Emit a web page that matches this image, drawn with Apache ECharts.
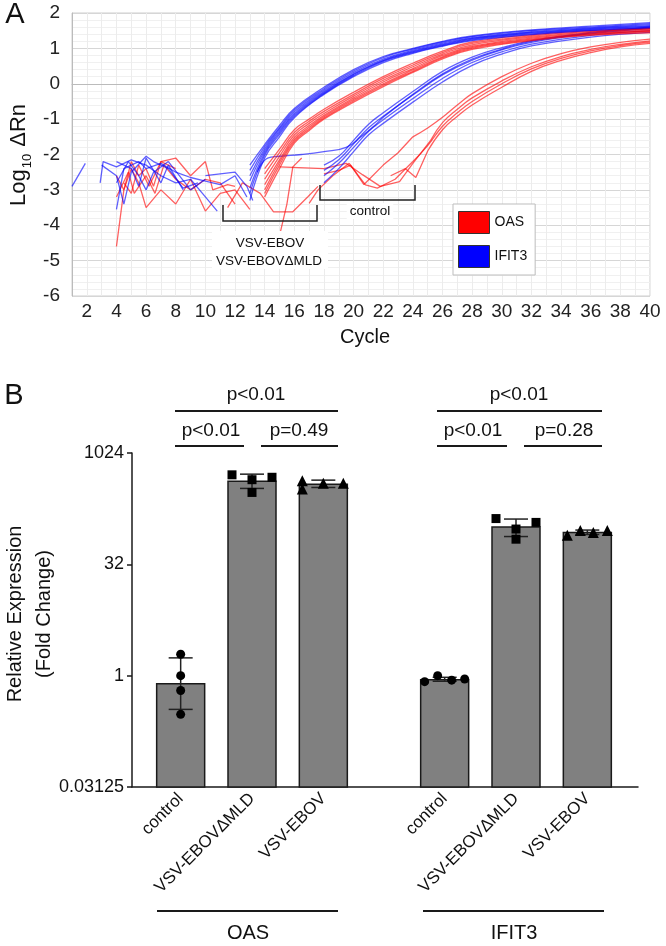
<!DOCTYPE html>
<html>
<head>
<meta charset="utf-8">
<script src="https://cdn.jsdelivr.net/npm/echarts@6/dist/echarts.min.js"></script>
<style>
html, body { margin: 0; padding: 0; background: #fff; }
#chart { width: 666px; height: 946px; }
</style>
</head>
<body>
<div id="chart"></div>
<script>
// ---- panel A: amplification curves (log10 dRn vs cycle) ----
const cyclesBlueEarly = [13, 14, 15, 16, 18, 20, 22, 24, 26, 28, 32, 36, 40];
const blueEarly = [
  [-2.3, -1.72, -1.18, -0.7, -0.1, 0.4, 0.77, 1.0, 1.2, 1.35, 1.52, 1.63, 1.73],
  [-2.45, -1.78, -1.24, -0.74, -0.14, 0.36, 0.74, 0.98, 1.18, 1.33, 1.5, 1.6, 1.7],
  [-2.6, -1.84, -1.28, -0.79, -0.18, 0.32, 0.7, 0.95, 1.15, 1.3, 1.47, 1.58, 1.67],
  [-2.75, -1.9, -1.33, -0.84, -0.22, 0.28, 0.67, 0.92, 1.12, 1.28, 1.45, 1.56, 1.64],
  [-2.95, -1.96, -1.38, -0.88, -0.25, 0.26, 0.65, 0.9, 1.1, 1.26, 1.43, 1.54, 1.62],
  [-3.1, -2.02, -1.43, -0.92, -0.28, 0.23, 0.63, 0.88, 1.08, 1.24, 1.41, 1.52, 1.6],
  [-3.3, -2.1, -1.5, -0.96, -0.3, 0.2, 0.6, 0.86, 1.06, 1.22, 1.39, 1.5, 1.58]
];
const cyclesRedMid = [14, 15, 16, 17, 18, 20, 22, 24, 26, 28, 32, 36, 40];
const redMid = [
  [-2.4, -1.85, -1.3, -1.0, -0.72, -0.24, 0.2, 0.58, 0.92, 1.18, 1.38, 1.5, 1.58],
  [-2.55, -1.95, -1.38, -1.06, -0.78, -0.3, 0.15, 0.53, 0.88, 1.14, 1.35, 1.48, 1.56],
  [-2.7, -2.05, -1.45, -1.12, -0.84, -0.35, 0.1, 0.48, 0.84, 1.1, 1.32, 1.46, 1.54],
  [-2.85, -2.15, -1.52, -1.18, -0.89, -0.4, 0.05, 0.43, 0.8, 1.06, 1.29, 1.43, 1.51],
  [-3.0, -2.22, -1.58, -1.23, -0.93, -0.44, 0.0, 0.39, 0.76, 1.03, 1.26, 1.41, 1.49],
  [-3.1, -2.3, -1.63, -1.28, -0.97, -0.48, -0.04, 0.35, 0.73, 1.0, 1.24, 1.39, 1.47],
  [-3.2, -2.4, -1.68, -1.32, -1.0, -0.52, -0.08, 0.32, 0.7, 0.97, 1.22, 1.37, 1.44]
];
const cyclesBlueLate = [18, 19, 20, 21, 22, 24, 26, 28, 30, 32, 36, 40];
const blueLate = [
  [-2.3, -2.05, -1.6, -1.15, -0.82, -0.22, 0.35, 0.75, 1.02, 1.22, 1.45, 1.6],
  [-2.45, -2.15, -1.7, -1.25, -0.92, -0.32, 0.25, 0.67, 0.96, 1.17, 1.41, 1.56],
  [-2.6, -2.25, -1.8, -1.35, -1.02, -0.42, 0.15, 0.6, 0.9, 1.12, 1.37, 1.5],
  [-2.8, -2.4, -1.92, -1.45, -1.12, -0.52, 0.05, 0.52, 0.84, 1.07, 1.32, 1.45]
];
const blueLateFlat = [[13.5, -2.5], [14.2, -2.1], [15, -2.05], [16.5, -2.0], [18, -1.92], [19.5, -1.8],
  [20.5, -1.5], [21.5, -1.15], [22, -0.95], [24, -0.3], [26, 0.28], [28, 0.7], [30, 0.98], [32, 1.2], [36, 1.43], [40, 1.58]];
const redLate = [
  [[18, -2.55], [19, -2.45], [19.8, -2.3], [20.7, -2.85], [22, -2.3], [23, -1.95], [24, -1.5], [25, -1.25], [26, -0.95],
   [27, -0.6], [28, -0.28], [30, 0.2], [32, 0.58], [34, 0.85], [36, 1.04], [38, 1.17], [40, 1.26]],
  [[15, -2.35], [18, -2.4], [19.5, -2.25], [20.6, -2.57], [21.8, -2.9], [23.1, -2.77], [24, -2.25], [25.2, -1.6], [26, -1.1],
   [27, -0.72], [28, -0.4], [30, 0.08], [32, 0.48], [34, 0.77], [36, 0.97], [38, 1.11], [40, 1.21]],
  [[17, -3.38], [17.6, -3.0], [18.6, -2.6], [19.7, -2.25], [20.8, -2.86], [21.6, -2.95], [22.8, -2.7], [24, -2.2], [25, -1.75],
   [26, -1.2], [27, -0.82], [28, -0.5], [30, 0.0], [32, 0.42], [34, 0.72], [36, 0.93], [38, 1.08], [40, 1.18]],
  [[22.5, -2.6], [23.5, -2.4], [24.2, -2.65], [25, -1.9], [26, -1.3], [27, -0.92], [28, -0.6], [30, -0.1], [32, 0.35],
   [34, 0.66], [36, 0.88], [38, 1.04], [40, 1.14]]
];
// index in each redLate curve where the straight baseline ends and the smooth rise begins
const redLateRiseFrom = [6, 7, 7, 3];
const blueNoise = [
  [[1, -2.9], [1.9, -2.25]],
  [[2.9, -2.8], [3.1, -2.2], [4, -2.35], [5, -2.15], [6, -2.3], [7, -2.6], [8, -2.8], [9, -2.7], [10, -3.2], [10.8, -3.6]],
  [[3, -2.3], [4, -2.6], [4.5, -3.4], [5, -2.5], [6, -2.05], [6.5, -2.2], [7.5, -2.4], [8.5, -2.95], [9.5, -2.8]],
  [[4, -3.55], [4.5, -2.4], [5.5, -2.2], [6, -2.4], [7, -2.25], [8, -2.5], [9, -2.65], [10, -2.75], [11, -2.85], [12, -2.6], [12.8, -3.2]],
  [[4, -2.2], [5, -2.4], [5.5, -2.9], [6, -2.1], [7, -2.8], [7.5, -2.3], [8.5, -3.0]],
  [[10, -2.6], [11, -2.55], [12, -2.5], [12.8, -2.9], [13.2, -3.3]],
  [[4, -2.8], [4.8, -2.2], [5.5, -2.6], [6, -3.0], [6.5, -2.5], [7.5, -2.2], [9, -3.0], [10, -2.7]]
];
const redNoise = [
  [[4, -4.6], [4.5, -3.0], [5, -2.4], [5.5, -2.8], [6, -3.5], [7, -3.0], [8, -3.4], [9, -2.7], [10, -3.6], [11, -3.1], [12, -3.0], [13, -3.55]],
  [[4, -2.6], [4.5, -3.0], [5, -2.2], [5.5, -2.6], [6, -2.4], [6.5, -2.9], [7, -2.2], [8, -2.1], [9, -2.6], [10, -2.2], [10.5, -3.0], [11.5, -2.85], [12, -2.9]],
  [[4, -3.2], [4.8, -2.5], [5.2, -3.1], [6, -2.6], [6.6, -3.1], [7.2, -2.3], [8, -2.7], [9, -3.0], [10, -2.7], [11, -2.8], [12, -3.4]],
  [[4.5, -2.8], [5, -3.1], [5.5, -2.3], [6.2, -2.9], [7, -2.2], [8, -2.4]],
  [[11.5, -3.5], [12.5, -2.8], [13.7, -3.1], [14.6, -3.62], [15.9, -3.62], [16.9, -3.2], [17.6, -2.9]],
  [[15, -4.3], [15.5, -3.4], [15.9, -2.35], [16.5, -2.1]]
];

// ---- panel B: relative expression (fold change, log2 axis) ----
const catsB = ['control', 'VSV-EBOV\u0394MLD', 'VSV-EBOV'];
const barOAS = [0.78, 425, 388];
const barIFIT3 = [0.88, 102, 86];
const errOAS = [[0.35, 1.74], [340, 530], [350, 440]];
const errIFIT3 = [[0.84, 0.95], [76, 131], [81, 93]];
const ptsOAS = [[1.95, 1.0, 0.63, 0.30], [519, 446, 300, 481], [431, 333, 399, 399]];
const ptsIFIT3 = [[0.83, 1.0, 0.87, 0.90], [133, 96, 70, 118], [79, 92, 86, 92]];
const jitterOAS = [[0, 0, 0, 0], [-20, 0, 0, 20], [-21, -21, 0, 20]];
const jitterIFIT3 = [[-20, -7, 7, 20], [-20, 0, 0, 20], [-20, -7, 6, 20]];
const symbolsB = ['circle', 'rect', 'triangle'];
const yTicksB = [0.03125, 1, 32, 1024];

const FONT = 'Liberation Sans, Arial, sans-serif';
const RED = 'rgba(255,0,0,0.62)';
const BLUE = 'rgba(0,0,255,0.62)';
const LOG_MIN = Math.log2(yTicksB[0]);
const LOG_MAX = Math.log2(yTicksB[yTicksB.length - 1]);

const chart = echarts.init(document.getElementById('chart'));

function zip(xs, ys) { return xs.map((x, i) => [x, ys[i]]); }

function curve(name, color, data, smooth) {
  return {
    name: name, type: 'line', xAxisIndex: 0, yAxisIndex: 0,
    data: data, showSymbol: false, symbol: 'none',
    smooth: smooth ? 0.45 : false,
    lineStyle: { color: color, width: 1.3 }, itemStyle: { color: color },
    silent: true
  };
}

const seriesA = [];
redNoise.forEach(d => seriesA.push(curve('OAS', RED, d, false)));
blueNoise.forEach(d => seriesA.push(curve('IFIT3', BLUE, d, false)));
redLate.forEach((d, i) => {
  const k = redLateRiseFrom[i];
  seriesA.push(curve('OAS', RED, d.slice(0, k + 1), false));
  seriesA.push(curve('OAS', RED, d.slice(k), true));
});
blueLate.forEach(v => seriesA.push(curve('IFIT3', BLUE, zip(cyclesBlueLate, v), true)));
seriesA.push(curve('IFIT3', BLUE, blueLateFlat, true));
redMid.forEach(v => seriesA.push(curve('OAS', RED, zip(cyclesRedMid, v), true)));
blueEarly.forEach(v => seriesA.push(curve('IFIT3', BLUE, zip(cyclesBlueEarly, v), true)));

function renderBar(params, api) {
  const top = api.coord([api.value(0), api.value(1)]);
  const base = api.coord([api.value(0), LOG_MIN]);
  const w = 48;
  return {
    type: 'rect',
    shape: { x: top[0] - w / 2, y: top[1], width: w, height: base[1] - top[1] },
    style: { fill: '#808080', stroke: '#1a1a1a', lineWidth: 1.5 }
  };
}

function renderErr(params, api) {
  const x = api.value(0);
  const lo = api.coord([x, api.value(1)]);
  const hi = api.coord([x, api.value(2)]);
  const c = 12;
  const st = { stroke: '#222', lineWidth: 1.5 };
  return {
    type: 'group', children: [
      { type: 'line', shape: { x1: lo[0], y1: lo[1], x2: hi[0], y2: hi[1] }, style: st },
      { type: 'line', shape: { x1: lo[0] - c, y1: lo[1], x2: lo[0] + c, y2: lo[1] }, style: st },
      { type: 'line', shape: { x1: hi[0] - c, y1: hi[1], x2: hi[0] + c, y2: hi[1] }, style: st }
    ]
  };
}

const seriesB = [];
[[barOAS, errOAS, ptsOAS, jitterOAS], [barIFIT3, errIFIT3, ptsIFIT3, jitterIFIT3]].forEach((g, gi) => {
  const [bars, errs, pts, jit] = g;
  const ax = gi + 1;
  seriesB.push({
    type: 'custom', xAxisIndex: ax, yAxisIndex: ax, z: 2, silent: true,
    renderItem: renderBar, encode: { x: 0, y: 1 },
    data: bars.map((v, i) => [i, Math.log2(v)])
  });
  seriesB.push({
    type: 'custom', xAxisIndex: ax, yAxisIndex: ax, z: 3, silent: true,
    renderItem: renderErr, encode: { x: 0, y: [1, 2] },
    data: errs.map((e, i) => [i, Math.log2(e[0]), Math.log2(e[1])])
  });
  pts.forEach((row, i) => {
    seriesB.push({
      type: 'scatter', xAxisIndex: ax, yAxisIndex: ax, z: 4, silent: true,
      symbol: symbolsB[i], symbolSize: i === 2 ? 11 : 9,
      itemStyle: { color: '#000', opacity: 1 },
      data: row.map((v, k) => ({ value: [i, Math.log2(v)], symbolOffset: [jit[i][k], 0] }))
    });
  });
});

function txt(x, y, s, size, extra) {
  return {
    type: 'text', x: x, y: y, silent: true, z: 100,
    style: Object.assign({ text: s, font: size + 'px ' + FONT, fill: '#111', align: 'center', verticalAlign: 'middle' }, extra || {})
  };
}
function hline(x1, x2, y, w) {
  return { type: 'line', silent: true, z: 100, shape: { x1: x1, y1: y, x2: x2, y2: y }, style: { stroke: '#1a1a1a', lineWidth: w || 2 } };
}
function bracket(x1, x2, yTop, yBottom) {
  return { type: 'polyline', silent: true, z: 100,
    shape: { points: [[x1, yTop], [x1, yBottom], [x2, yBottom], [x2, yTop]] },
    style: { stroke: '#222', lineWidth: 1.5, fill: null } };
}

const graphics = [
  txt(15, 15, 'A', 29),
  txt(14, 396, 'B', 29),
  // y title A
  {
    type: 'text', x: 19, y: 155, rotation: Math.PI / 2, silent: true, z: 100,
    style: {
      text: '{a|Log}{s|10}{a| \u0394Rn}', align: 'center', verticalAlign: 'middle', fill: '#111',
      rich: {
        a: { fontSize: 22, fontFamily: FONT, fill: '#111', lineHeight: 30, verticalAlign: 'middle' },
        s: { fontSize: 13, fontFamily: FONT, fill: '#111', lineHeight: 30, verticalAlign: 'bottom', padding: [8, 1, 0, 1] }
      }
    }
  },
  txt(365, 337, 'Cycle', 20),
  // annotations in A
  { type: 'rect', silent: true, z: 99, shape: { x: 212, y: 231, width: 116, height: 38 }, style: { fill: '#fff' } },
  bracket(223, 317, 205, 221),
  bracket(320, 415, 185, 200),
  txt(270, 243, 'VSV-EBOV', 13.5),
  txt(269, 261, 'VSV-EBOV\u0394MLD', 13.5),
  txt(370, 211, 'control', 13.5, { backgroundColor: '#fff', padding: [1, 3] }),
  // y title B
  {
    type: 'text', x: 30, y: 614, rotation: Math.PI / 2, silent: true, z: 100,
    style: { text: 'Relative Expression\n(Fold Change)', font: '20px ' + FONT, fill: '#111', align: 'center', verticalAlign: 'middle', lineHeight: 29 }
  },
  // significance lines
  hline(175, 338, 411), txt(256, 395, 'p<0.01', 19),
  hline(175, 244, 446), txt(211, 431, 'p<0.01', 19),
  hline(261, 338, 446), txt(299, 431, 'p=0.49', 19),
  hline(437, 602, 411), txt(519, 395, 'p<0.01', 19),
  hline(437, 507, 446), txt(473, 431, 'p<0.01', 19),
  hline(524, 602, 446), txt(564, 431, 'p=0.28', 19),
  // group labels
  hline(157, 338, 911), txt(248, 933, 'OAS', 20),
  hline(423, 604, 911), txt(514, 933, 'IFIT3', 20)
];

const catAxisB = (gi) => ({
  type: 'category', gridIndex: gi, data: catsB,
  axisLine: { show: false }, axisTick: { show: false },
  axisLabel: { rotate: 45, fontSize: 17, fontFamily: FONT, color: '#111', margin: 9, interval: 0 }
});
const valAxisB = (gi, show) => ({
  type: 'value', gridIndex: gi, min: LOG_MIN, max: LOG_MAX, interval: 5, show: show,
  offset: show ? 13 : 0,
  axisLine: { show: true, lineStyle: { color: '#1a1a1a', width: 1.5 } },
  axisTick: { show: true, length: 5, lineStyle: { color: '#1a1a1a', width: 1.5 } },
  axisLabel: { fontSize: 18, fontFamily: FONT, color: '#111', margin: 8,
    formatter: v => String(Math.pow(2, v)) },
  splitLine: { show: false }
});

chart.setOption({
  animation: false,
  backgroundColor: '#fff',
  textStyle: { fontFamily: FONT },
  grid: [
    { left: 72, top: 13, width: 578, height: 283, show: true, borderColor: '#cfcfcf', borderWidth: 1, backgroundColor: '#fff' },
    { left: 145, top: 453, width: 214, height: 334 },
    { left: 409, top: 453, width: 214, height: 334 },
    { left: 132, top: 453, width: 506, height: 334 }
  ],
  legend: {
    data: [
      { name: 'OAS', itemStyle: { color: '#ff0000', borderColor: '#333', borderWidth: 1 } },
      { name: 'IFIT3', itemStyle: { color: '#0000ff', borderColor: '#333', borderWidth: 1 } }
    ],
    icon: 'rect', orient: 'vertical', left: 453, top: 204,
    itemWidth: 31, itemHeight: 22, itemGap: 11, padding: [7, 8, 7, 5],
    backgroundColor: '#fff', borderColor: '#bdbdbd', borderWidth: 1,
    selectedMode: false, z: 50,
    textStyle: { fontSize: 14, fontFamily: FONT, color: '#111' }
  },
  xAxis: [
    {
      type: 'value', gridIndex: 0, min: 1, max: 40, interval: 1,
      axisLine: { show: true, lineStyle: { color: '#bbb' } }, axisTick: { show: false },
      axisLabel: { fontSize: 19, fontFamily: FONT, color: '#222', margin: 6,
        formatter: v => (v % 2 === 0 ? String(v) : '') },
      splitLine: { show: true, lineStyle: { color: '#ececec', width: 1 } }
    },
    catAxisB(1), catAxisB(2),
    { type: 'value', gridIndex: 3, axisLine: { show: true, lineStyle: { color: '#1a1a1a', width: 1.5 } },
      axisTick: { show: false }, axisLabel: { show: false }, splitLine: { show: false } }
  ],
  yAxis: [
    {
      type: 'value', gridIndex: 0, min: -6, max: 2, interval: 1,
      axisLine: { show: true, lineStyle: { color: '#bbb' } }, axisTick: { show: false },
      axisLabel: { fontSize: 19, fontFamily: FONT, color: '#222', margin: 12 },
      splitLine: { show: true, lineStyle: { color: '#d6d6d6', width: 1 } },
      minorTick: { show: false, splitNumber: 5 },
      minorSplitLine: { show: true, lineStyle: { color: '#f0f0f0', width: 1 } }
    },
    valAxisB(1, true), valAxisB(2, false),
    { type: 'value', gridIndex: 3, show: false }
  ],
  series: seriesA.concat(seriesB),
  graphic: graphics
});
</script>
</body>
</html>
